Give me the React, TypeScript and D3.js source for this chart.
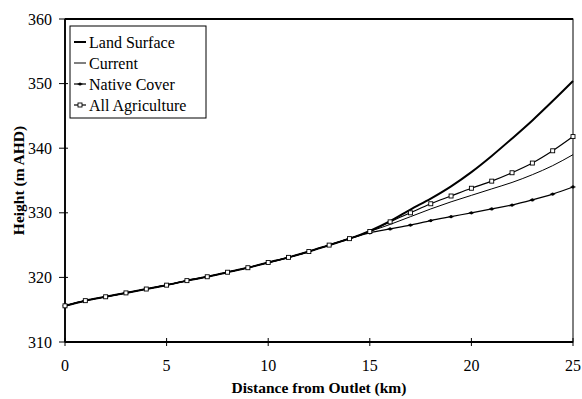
import React from 'react';
import * as d3 from 'd3';

// distance from outlet (km), one point per km
const distance = d3.range(0, 26);

// heights (m AHD)
const landSurface = [315.6, 316.4, 317.0, 317.6, 318.2, 318.8, 319.5, 320.1, 320.8, 321.5, 322.3, 323.1, 324.0, 325.0, 326.0,
  327.2, 328.7, 330.5, 332.2, 334.1, 336.3, 338.8, 341.5, 344.3, 347.3, 350.4];
const current = [315.6, 316.4, 317.0, 317.6, 318.2, 318.8, 319.5, 320.1, 320.8, 321.5, 322.3, 323.1, 324.0, 325.0, 326.0,
  327.1, 328.2, 329.4, 330.6, 331.7, 332.7, 333.7, 334.7, 335.9, 337.3, 339.0];
const nativeCover = [315.6, 316.4, 317.0, 317.6, 318.2, 318.8, 319.5, 320.1, 320.8, 321.5, 322.3, 323.1, 324.0, 325.0, 326.0,
  326.9, 327.5, 328.1, 328.8, 329.4, 330.0, 330.6, 331.2, 332.0, 332.9, 334.0];
const allAgriculture = [315.6, 316.4, 317.0, 317.6, 318.2, 318.8, 319.5, 320.1, 320.8, 321.5, 322.3, 323.1, 324.0, 325.0, 326.0,
  327.1, 328.6, 330.0, 331.4, 332.6, 333.8, 334.9, 336.2, 337.7, 339.6, 341.8];

const xTicks = [0, 5, 10, 15, 20, 25];
const yTicks = [310, 320, 330, 340, 350, 360];
const legendLabels = ['Land Surface', 'Current', 'Native Cover', 'All Agriculture'];

const FONT = 'Liberation Serif, DejaVu Serif, serif';

export default function App() {
  const width = 582;
  const height = 399;
  const margin = { top: 19, right: 9, bottom: 57, left: 65 };
  const innerW = width - margin.left - margin.right;
  const innerH = height - margin.top - margin.bottom;

  const x = d3.scaleLinear().domain([0, 25]).range([0, innerW]);
  const y = d3.scaleLinear().domain([310, 360]).range([innerH, 0]);

  const line = d3.line<number>()
    .x((_, i) => x(distance[i]))
    .y(d => y(d))
    .curve(d3.curveMonotoneX);

  const series = [
    { name: legendLabels[0], values: landSurface, width: 2, marker: 'none' },
    { name: legendLabels[1], values: current, width: 1, marker: 'none' },
    { name: legendLabels[2], values: nativeCover, width: 1.2, marker: 'dot' },
    { name: legendLabels[3], values: allAgriculture, width: 1.2, marker: 'square' },
  ];

  const marker = (kind: string, cx: number, cy: number, key: string | number) => {
    if (kind === 'dot') {
      return (
        <g key={key}>
          <circle cx={cx} cy={cy} r={1.6} fill="#000" />
          <line x1={cx - 2.5} x2={cx + 2.5} y1={cy} y2={cy} stroke="#000" strokeWidth={1} />
        </g>
      );
    }
    if (kind === 'square') {
      return <rect key={key} x={cx - 2} y={cy - 2} width={4} height={4} fill="#fff" stroke="#000" strokeWidth={0.9} />;
    }
    return null;
  };

  const legendX = 5;
  const legendY = 7;
  const legendW = 136;
  const legendH = 92;
  const rowGap = 21;

  return (
    <div style={{ width, height, overflow: 'hidden', position: 'absolute', left: 0, top: 0 }}>
      <svg width={width} height={height} style={{ display: 'block', background: '#fff' }}>
        <g transform={`translate(${margin.left},${margin.top})`}>
          {/* frame */}
          <rect x={0} y={0} width={innerW} height={innerH} fill="none" stroke="#000" strokeWidth={1} />
          <line x1={0} x2={innerW} y1={0} y2={0} stroke="#000" strokeWidth={1.8} />
          <line x1={0} x2={0} y1={0} y2={innerH} stroke="#000" strokeWidth={1.8} />
          <line x1={0} x2={innerW} y1={innerH} y2={innerH} stroke="#000" strokeWidth={1.8} />

          {/* y ticks */}
          {yTicks.map(t => (
            <g key={`y${t}`} transform={`translate(0,${y(t)})`}>
              <line x1={-6} x2={3} stroke="#000" strokeWidth={1} />
              <text x={-13} dy="0.35em" textAnchor="end" style={{ fontFamily: FONT }} fontSize={16}>{t}</text>
            </g>
          ))}

          {/* x ticks */}
          {xTicks.map(t => (
            <g key={`x${t}`} transform={`translate(${x(t)},${innerH})`}>
              <line y1={-4} y2={4} stroke="#000" strokeWidth={1} />
              <text y={29} textAnchor="middle" style={{ fontFamily: FONT }} fontSize={16}>{t}</text>
            </g>
          ))}

          {/* series */}
          {series.map(s => (
            <g key={s.name}>
              <path d={line(s.values) || ''} fill="none" stroke="#000" strokeWidth={s.width} />
              {s.values.map((v, i) => marker(s.marker, x(distance[i]), y(v), i))}
            </g>
          ))}

          {/* legend */}
          <g transform={`translate(${legendX},${legendY})`}>
            <rect x={0} y={0} width={legendW} height={legendH} fill="#fff" stroke="#000" strokeWidth={1} />
            {series.map((s, i) => {
              const ly = 16 + i * rowGap;
              return (
                <g key={`leg${i}`}>
                  <line x1={4} x2={16} y1={ly} y2={ly} stroke="#000" strokeWidth={s.width} />
                  {marker(s.marker, 10, ly, 'm')}
                  <text x={19} y={ly} dy="0.35em" style={{ fontFamily: FONT }} fontSize={16}>{s.name}</text>
                </g>
              );
            })}
          </g>
        </g>

        {/* axis titles */}
        <text
          transform={`translate(24,${margin.top + innerH / 2}) rotate(-90)`}
          textAnchor="middle"
          style={{ fontFamily: FONT }}
          fontSize={15.5}
          fontWeight="bold"
        >Height (m AHD)</text>
        <text
          x={margin.left + innerW / 2}
          y={393}
          textAnchor="middle"
          style={{ fontFamily: FONT }}
          fontSize={15.5}
          fontWeight="bold"
        >Distance from Outlet (km)</text>
      </svg>
    </div>
  );
}
